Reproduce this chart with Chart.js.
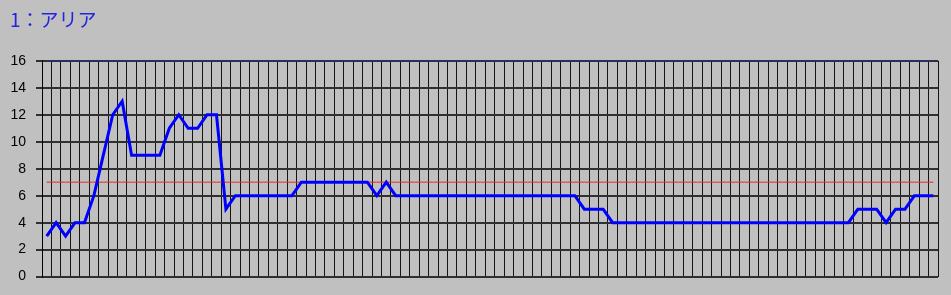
<!DOCTYPE html>
<html>
<head>
<meta charset="utf-8">
<script src="https://cdn.jsdelivr.net/npm/chart.js@4"></script>
<style>
  html, body { margin: 0; padding: 0; background: #c0c0c0; }
  canvas { display: block; }
</style>
</head>
<body>
<canvas id="myChart" width="951" height="295"></canvas>
<script>
// values, one per column
const areaValues = [
    3, 4, 3, 4, 4, 6, 9, 12, 13, 9, 9, 9, 9, 11, 12, 11, 11, 12, 12,
    5,
    6, 6, 6, 6, 6, 6, 6,
    7, 7, 7, 7, 7, 7, 7, 7,
    6, 7,
    6, 6, 6, 6, 6, 6, 6, 6, 6, 6, 6, 6, 6, 6, 6, 6, 6, 6, 6, 6,
    5, 5, 5,
    4, 4, 4, 4, 4, 4, 4, 4, 4, 4, 4, 4, 4, 4, 4, 4, 4, 4, 4, 4, 4, 4, 4, 4, 4, 4,
    5, 5, 5,
    4,
    5, 5,
    6, 6, 6
]
const categories = areaValues.map((v, i) => String(i + 1))
const thresholdLine = 7
const upperLine = 16
const yTicks = [0, 2, 4, 6, 8, 10, 12, 14, 16]

const data = {
    labels: categories,
    datasets: [
        {
            label: 'アリア',
            data: areaValues,
            borderColor: '#0000ff',
            borderWidth: 3,
            pointRadius: 0,
            order: 0
        },
        {
            label: 'threshold',
            data: categories.map(() => thresholdLine),
            borderColor: '#e82828',
            borderWidth: 1,
            pointRadius: 0,
            order: 1
        },
        {
            label: 'upper',
            data: categories.map(() => upperLine),
            borderColor: '#2a2aff',
            borderWidth: 1,
            pointRadius: 0,
            order: 2
        }
    ]
}

const config = {
    type: 'line',
    data: data,
    options: {
        responsive: false,
        animation: false,
        devicePixelRatio: 1,
        layout: {
            padding: { left: 10, right: 13, top: 0, bottom: 14 }
        },
        plugins: {
            legend: { display: false },
            tooltip: { enabled: false },
            title: {
                display: true,
                text: '1：アリア',
                align: 'start',
                color: '#2424e0',
                font: { family: '"Noto Sans CJK JP", sans-serif', size: 19, weight: 'normal' },
                padding: { top: 8, bottom: 30 }
            }
        },
        scales: {
            x: {
                offset: true,
                ticks: { display: false },
                grid: { offset: true, color: '#141414', lineWidth: 1, drawTicks: false },
                border: { display: false }
            },
            y: {
                min: 0,
                max: 16,
                afterBuildTicks: (scale) => {
                    scale.ticks = yTicks.map(v => ({ value: v }))
                },
                afterFit: (scale) => {
                    scale.width = 32
                },
                ticks: {
                    color: '#000000',
                    padding: 10,
                    font: { family: '"Liberation Sans", Arial, sans-serif', size: 14 }
                },
                grid: { color: '#303030', lineWidth: 2, tickLength: 6 },
                border: { color: '#000000', width: 1 }
            }
        }
    }
}
new Chart(document.getElementById('myChart'), config)
</script>
</body>
</html>
